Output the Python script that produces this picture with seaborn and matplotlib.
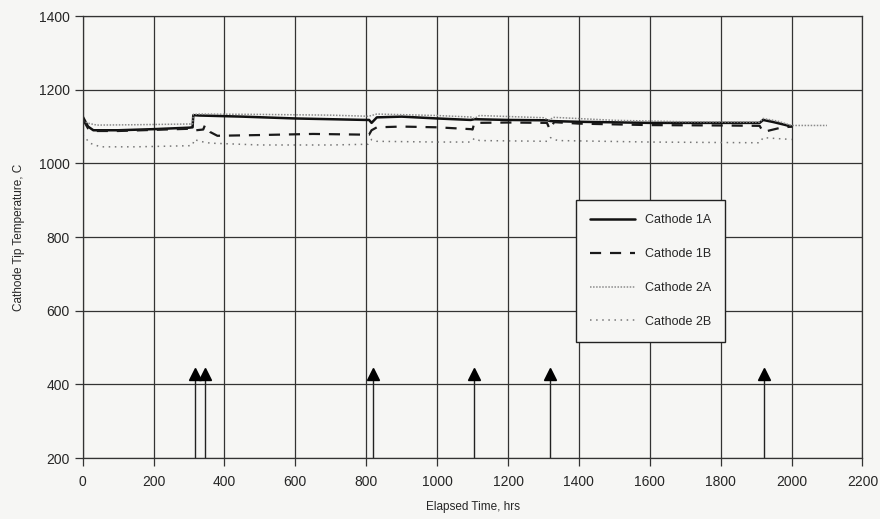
import matplotlib
matplotlib.use("Agg")
import matplotlib.pyplot as plt
import seaborn as sns

# elapsed time (hrs) and cathode tip temperature (C)
t_1a = [0, 15, 30, 100, 200, 300, 310, 312, 330, 450, 600, 800, 808,
        815, 830, 900, 1000, 1095, 1105, 1200, 1310,
        1320, 1400, 1600, 1800, 1910, 1920, 1950, 1980, 2000]
temp_1a = [1127, 1100, 1090, 1090, 1093, 1097, 1098, 1131, 1130, 1127, 1122, 1118, 1118,
           1110, 1125, 1127, 1122, 1118, 1120, 1118, 1117,
           1115, 1113, 1110, 1110, 1110, 1118, 1112, 1105, 1100]

t_1b = [0, 15, 30, 100, 200, 300, 310, 320, 340, 345, 360, 380, 500, 650, 800, 808,
        815, 830, 900, 1000, 1095, 1100, 1105, 1200, 1310,
        1318, 1330, 1400, 1600, 1800, 1910, 1920, 1940, 1970, 2000]
temp_1b = [1120, 1095, 1088, 1088, 1091, 1094, 1095, 1090, 1092, 1104, 1085, 1075, 1077, 1080, 1078, 1078,
           1090, 1098, 1100, 1098, 1093, 1092, 1110, 1111, 1110,
           1092, 1112, 1108, 1104, 1103, 1102, 1085, 1090, 1097, 1100]

t_2a = [0, 20, 40, 150, 300, 310, 312, 330, 500, 700, 805,
        815, 830, 1000, 1095, 1105, 1120, 1300,
        1315, 1330, 1500, 1700, 1910, 1920, 1960, 2000, 2050, 2100]
temp_2a = [1115, 1108, 1104, 1105, 1107, 1107, 1133, 1134, 1133, 1131, 1128,
           1130, 1134, 1130, 1126, 1122, 1130, 1124,
           1118, 1125, 1117, 1113, 1112, 1122, 1115, 1103, 1103, 1103]

t_2b = [0, 20, 50, 150, 300, 310, 315, 330, 360, 500, 700, 805,
        815, 830, 1000, 1095, 1105, 1120, 1310,
        1320, 1340, 1600, 1910, 1920, 1950, 2000]
temp_2b = [1078, 1055, 1045, 1045, 1048, 1050, 1065, 1060, 1055, 1050, 1050, 1052,
           1065, 1060, 1058, 1058, 1068, 1062, 1060,
           1070, 1062, 1058, 1056, 1070, 1068, 1065]

# event markers (arrows)
event_times = [316, 345, 818, 1104, 1319, 1923]

x_ticks = list(range(0, 2201, 200))
y_ticks = list(range(200, 1401, 200))

sns.set_style("white")
plt.rcParams["font.family"] = ["Liberation Sans", "DejaVu Sans"]

fig = plt.figure(figsize=(8.8, 5.19), dpi=100)
fig.patch.set_facecolor("#f6f6f4")
ax = fig.add_axes([0.094, 0.1175, 0.886, 0.8515])
ax.set_facecolor("#f6f6f4")

series = [
    (t_1a, temp_1a, "Cathode 1A", "-", "#111111", 1.8),
    (t_1b, temp_1b, "Cathode 1B", (0, (5, 4)), "#1a1a1a", 1.6),
    (t_2a, temp_2a, "Cathode 2A", (0, (1, 1)), "#8a8a8a", 1.1),
    (t_2b, temp_2b, "Cathode 2B", (0, (1, 3)), "#777777", 1.1),
]
for t, temp, name, ls, col, lw in series:
    sns.lineplot(x=t, y=temp, ax=ax, label=name, color=col, linestyle=ls, linewidth=lw)

ax.vlines(event_times, 200, 418, color="#222222", linewidth=1.0)
ax.plot(event_times, [427] * len(event_times), linestyle="none", marker="^",
        markersize=9, color="black")

ax.set_xlim(0, 2200)
ax.set_ylim(200, 1400)
ax.set_xticks(x_ticks)
ax.set_yticks(y_ticks)
ax.grid(True, color="#333333", linewidth=0.9)
for s in ax.spines.values():
    s.set_color("#333333")
    s.set_linewidth(0.9)
ax.tick_params(axis="both", direction="out", length=6, width=0.9, color="#333333",
               labelsize=10, left=True, bottom=True)
ax.tick_params(axis="x", pad=6)
ax.set_xlabel("Elapsed Time, hrs", fontsize=8.5, labelpad=9)
ax.set_ylabel("Cathode Tip Temperature, C", fontsize=8.5, labelpad=10)

leg = ax.legend(loc="upper left", bbox_to_anchor=(0.625, 0.597), fontsize=9,
                handlelength=3.6, labelspacing=1.75, borderpad=1.1,
                fancybox=False, frameon=True, edgecolor="#222222",
                facecolor="#f6f6f4", framealpha=1.0, handletextpad=0.8)
leg.get_frame().set_linewidth(1.0)

fig.savefig("out.png", dpi=100, facecolor=fig.get_facecolor())
